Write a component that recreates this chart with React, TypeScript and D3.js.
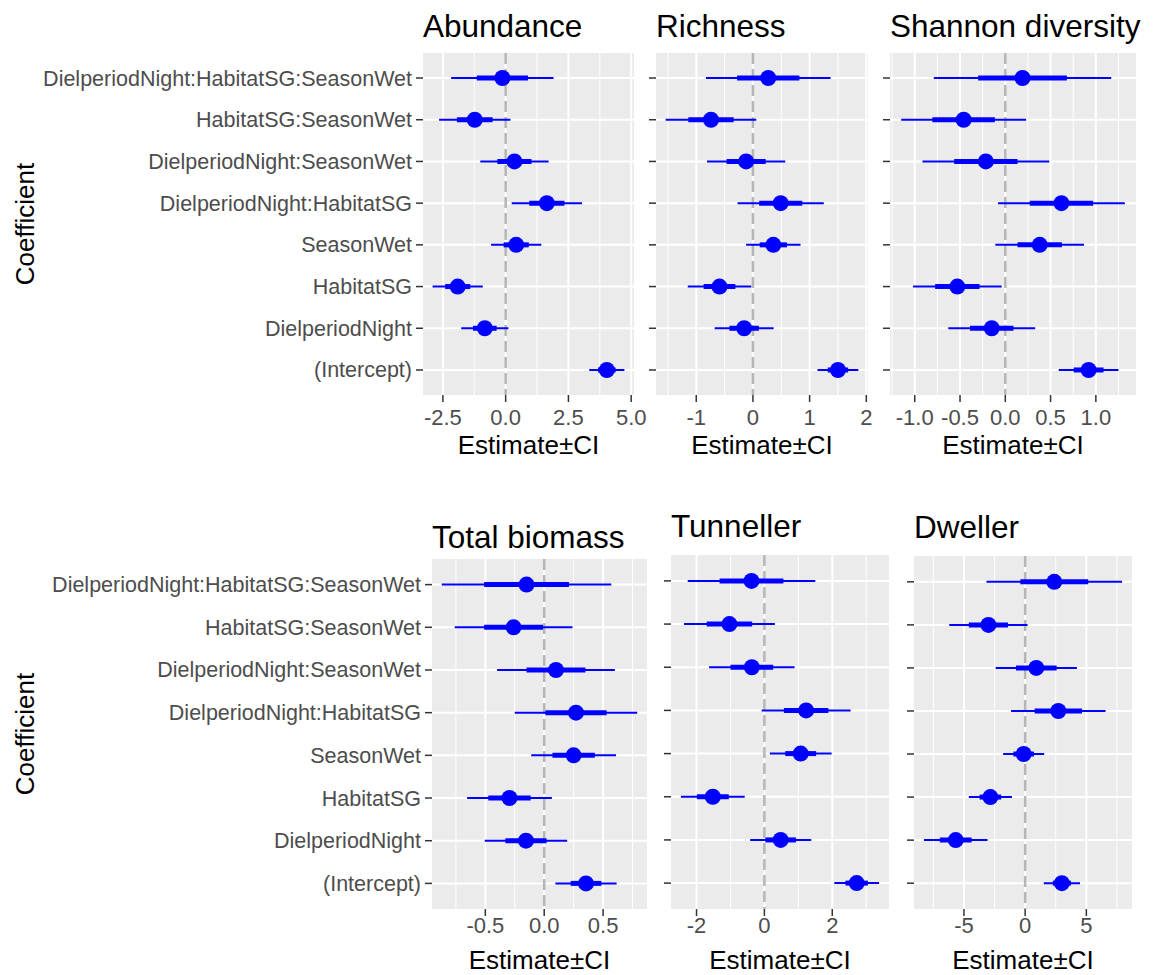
import * as d3 from 'd3';

// coefficient names in model order (bottom of each panel first)
const coefficients = [
  '(Intercept)',
  'DielperiodNight',
  'HabitatSG',
  'SeasonWet',
  'DielperiodNight:HabitatSG',
  'DielperiodNight:SeasonWet',
  'HabitatSG:SeasonWet',
  'DielperiodNight:HabitatSG:SeasonWet',
];

const panelTitles = ['Abundance', 'Richness', 'Shannon diversity', 'Total biomass', 'Tunneller', 'Dweller'];

// estimates and standard errors (thick bar = 1 SE, thin bar = 2 SE)
const abundanceEst = [4.03, -0.83, -1.91, 0.42, 1.64, 0.35, -1.23, -0.13];
const abundanceSE = [0.35, 0.47, 0.5, 0.5, 0.7, 0.68, 0.71, 1.02];

const richnessEst = [1.5, -0.155, -0.59, 0.36, 0.49, -0.12, -0.74, 0.27];
const richnessSE = [0.18, 0.26, 0.28, 0.24, 0.38, 0.345, 0.4, 0.55];

const shannonEst = [0.92, -0.15, -0.53, 0.38, 0.62, -0.215, -0.46, 0.19];
const shannonSE = [0.165, 0.24, 0.245, 0.245, 0.35, 0.35, 0.345, 0.49];

const biomassEst = [0.355, -0.155, -0.295, 0.25, 0.27, 0.1, -0.26, -0.15];
const biomassSE = [0.13, 0.175, 0.18, 0.18, 0.26, 0.25, 0.25, 0.36];

const tunnellerEst = [2.72, 0.48, -1.52, 1.07, 1.23, -0.37, -1.03, -0.38];
const tunnellerSE = [0.33, 0.45, 0.47, 0.455, 0.655, 0.63, 0.67, 0.94];

const dwellerEst = [3.0, -5.67, -2.84, -0.12, 2.71, 0.91, -3.0, 2.38];
const dwellerSE = [0.74, 1.3, 0.88, 0.84, 1.93, 1.66, 1.6, 2.77];

// x axis breaks and their labels
const abundanceTicks = [-2.5, 0, 2.5, 5];
const abundanceTickLabels = ['-2.5', '0.0', '2.5', '5.0'];
const richnessTicks = [-1, 0, 1, 2];
const richnessTickLabels = ['-1', '0', '1', '2'];
const shannonTicks = [-1, -0.5, 0, 0.5, 1];
const shannonTickLabels = ['-1.0', '-0.5', '0.0', '0.5', '1.0'];
const biomassTicks = [-0.5, 0, 0.5];
const biomassTickLabels = ['-0.5', '0.0', '0.5'];
const tunnellerTicks = [-2, 0, 2];
const tunnellerTickLabels = ['-2', '0', '2'];
const dwellerTicks = [-5, 0, 5];
const dwellerTickLabels = ['-5', '0', '5'];

const estimates = [abundanceEst, richnessEst, shannonEst, biomassEst, tunnellerEst, dwellerEst];
const errors = [abundanceSE, richnessSE, shannonSE, biomassSE, tunnellerSE, dwellerSE];
const ticks = [abundanceTicks, richnessTicks, shannonTicks, biomassTicks, tunnellerTicks, dwellerTicks];
const tickLabels = [
  abundanceTickLabels,
  richnessTickLabels,
  shannonTickLabels,
  biomassTickLabels,
  tunnellerTickLabels,
  dwellerTickLabels,
];

// panel boxes on the page
const layout = [
  { x0: 423, x1: 634, y0: 53, y1: 395, titleY: 37, tickDy: 30, labDy: 59, labels: true },
  { x0: 656, x1: 868, y0: 53, y1: 395, titleY: 37, tickDy: 30, labDy: 59, labels: false },
  { x0: 890, x1: 1136, y0: 53, y1: 395, titleY: 37, tickDy: 30, labDy: 59, labels: false },
  { x0: 432, x1: 647, y0: 559, y1: 909, titleY: 548, tickDy: 24, labDy: 60, labels: true },
  { x0: 671, x1: 889, y0: 555, y1: 909, titleY: 537, tickDy: 24, labDy: 60, labels: false },
  { x0: 914, x1: 1132, y0: 556, y1: 909, titleY: 538, tickDy: 24, labDy: 60, labels: false },
];

const FONT = '"Liberation Sans", Arial, sans-serif';
const BLUE = '#0000FF';

function Panel({ i }: { i: number }) {
  const L = layout[i];
  const est = estimates[i];
  const se = errors[i];
  const lo = d3.min(est.map((e, k) => e - 2 * se[k])) as number;
  const hi = d3.max(est.map((e, k) => e + 2 * se[k])) as number;
  const pad = (hi - lo) * 0.05;
  const x = d3.scaleLinear().domain([lo - pad, hi + pad]).range([L.x0, L.x1]);
  const y = d3
    .scalePoint<string>()
    .domain([...coefficients].reverse())
    .range([L.y0, L.y1])
    .padding(0.6);

  const major = ticks[i];
  const step = major[1] - major[0];
  const [d0, d1] = x.domain();
  const minor = [major[0] - step / 2, ...major.map((t) => t + step / 2)].filter((t) => t >= d0 && t <= d1);

  return (
    <g>
      <text x={L.x0} y={L.titleY} fontSize={31.5} fill="#000">
        {panelTitles[i]}
      </text>
      <rect x={L.x0} y={L.y0} width={L.x1 - L.x0} height={L.y1 - L.y0} fill="#EBEBEB" />
      {minor.map((t) => (
        <line key={'mn' + t} x1={x(t)} x2={x(t)} y1={L.y0} y2={L.y1} stroke="#fff" strokeWidth={1} />
      ))}
      {major.map((t) => (
        <line key={'mj' + t} x1={x(t)} x2={x(t)} y1={L.y0} y2={L.y1} stroke="#fff" strokeWidth={2} />
      ))}
      {coefficients.map((c) => (
        <line key={'h' + c} x1={L.x0} x2={L.x1} y1={y(c)} y2={y(c)} stroke="#fff" strokeWidth={2} />
      ))}
      <line
        x1={x(0)}
        x2={x(0)}
        y1={L.y0}
        y2={L.y1}
        stroke="#B5B5B5"
        strokeWidth={2.5}
        strokeDasharray="11 5"
      />
      {coefficients.map((c, k) => (
        <g key={'e' + c}>
          <line
            x1={x(est[k] - 2 * se[k])}
            x2={x(est[k] + 2 * se[k])}
            y1={y(c)}
            y2={y(c)}
            stroke={BLUE}
            strokeWidth={2}
          />
          <line
            x1={x(est[k] - se[k])}
            x2={x(est[k] + se[k])}
            y1={y(c)}
            y2={y(c)}
            stroke={BLUE}
            strokeWidth={5}
          />
          <circle cx={x(est[k])} cy={y(c)} r={8} fill={BLUE} />
        </g>
      ))}
      {/* y axis */}
      {coefficients.map((c) => (
        <g key={'yt' + c}>
          <line x1={L.x0 - 7} x2={L.x0} y1={y(c)} y2={y(c)} stroke="#333" strokeWidth={1.5} />
          {L.labels && (
            <text x={L.x0 - 11} y={(y(c) as number) + 7.5} textAnchor="end" fontSize={21.5} fill="#4D4D4D">
              {c}
            </text>
          )}
        </g>
      ))}
      {/* x axis */}
      {major.map((t, k) => (
        <g key={'xt' + t}>
          <line x1={x(t)} x2={x(t)} y1={L.y1} y2={L.y1 + 7} stroke="#333" strokeWidth={1.5} />
          <text x={x(t)} y={L.y1 + L.tickDy} textAnchor="middle" fontSize={22} fill="#4D4D4D">
            {tickLabels[i][k]}
          </text>
        </g>
      ))}
      <text x={(L.x0 + L.x1) / 2} y={L.y1 + L.labDy} textAnchor="middle" fontSize={26} fill="#000">
        Estimate±CI
      </text>
      {L.labels && (
        <text
          transform={`translate(34,${(L.y0 + L.y1) / 2}) rotate(-90)`}
          textAnchor="middle"
          fontSize={26}
          fill="#000"
        >
          Coefficient
        </text>
      )}
    </g>
  );
}

export default function App() {
  return (
    <svg
      width={1157}
      height={975}
      style={{ position: 'absolute', left: 0, top: 0, background: '#fff' }}
      fontFamily={FONT}
    >
      {layout.map((_, i) => (
        <Panel key={i} i={i} />
      ))}
    </svg>
  );
}
